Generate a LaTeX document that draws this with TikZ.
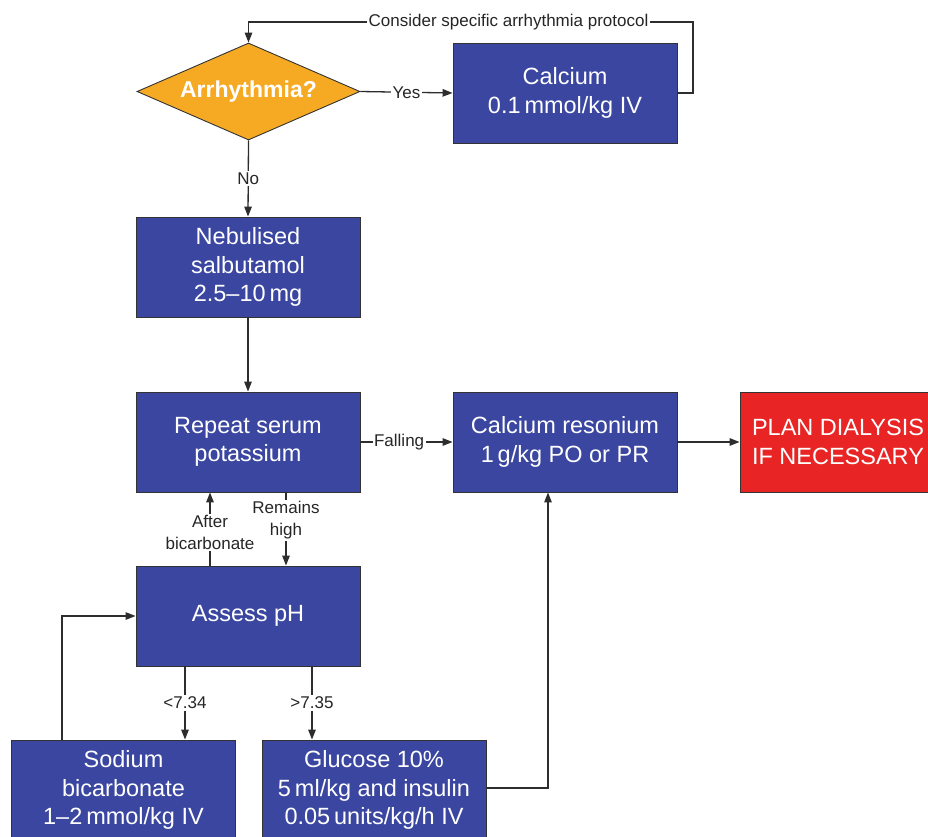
\documentclass[tikz,border=0pt]{standalone}
\usepackage{fontspec}
\setmainfont{Liberation Sans}
\usetikzlibrary{shapes.geometric,arrows.meta,calc}
\definecolor{boxblue}{RGB}{58,70,160}
\definecolor{diaorange}{RGB}{246,170,36}
\definecolor{alertred}{RGB}{232,36,36}
\definecolor{linegray}{RGB}{45,45,45}
\begin{document}
\begin{tikzpicture}[x=1pt,y=-1pt,
  box/.style={rectangle, draw=black!80, line width=0.9pt, fill=boxblue, text=white,
    minimum width=224pt, minimum height=100pt, align=center, inner sep=0pt,
    font=\fontsize{23.5}{28.5}\selectfont},
  diam/.style={diamond, aspect=2.3, draw=black!80, line width=0.9pt, fill=diaorange, text=white,
    minimum width=223pt, minimum height=97pt, inner sep=0pt,
    font=\fontsize{23}{27}\selectfont\bfseries},
  conn/.style={draw=linegray, line width=1.3pt, -{Triangle[length=10pt,width=7.5pt]}},
  lbl/.style={fill=white, inner sep=1.5pt, text=black!85, align=center,
    font=\fontsize{17}{22}\selectfont}]
\useasboundingbox (0,0) rectangle (928,836);
\clip (0,0) rectangle (928,836);
\fill[white] (0,0) rectangle (928,836);

\node[diam] (arr) at (248.5,91.5) {Arrhythmia?};
\node[box] (cal) at (565,93) {Calcium\\0.1\,mmol/kg IV};
\node[box] (neb) at (248,267) {Nebulised\\salbutamol\\2.5--10\,mg};
\node[box] (rep) at (248,442) {Repeat serum\\potassium};
\node[box] (res) at (565,442) {Calcium resonium\\1\,g/kg PO or PR};
\node[box, fill=alertred, minimum width=196pt] (dia) at (838,442) {PLAN DIALYSIS\\IF NECESSARY};
\node[box] (ph) at (248,616) {Assess pH};
\node[box] (sod) at (123.5,790) {Sodium\\bicarbonate\\1--2\,mmol/kg IV};
\node[box] (glu) at (374,790) {Glucose 10\%\\5\,ml/kg and insulin\\0.05\,units/kg/h IV};

\coordinate (topr) at (693,22);

\draw[conn] (arr.east) -- node[lbl]{Yes} (cal.west);
\draw[conn] (cal.east) -| (topr) -- node[lbl, pos=0.415]{Consider specific arrhythmia protocol} (topr -| arr.north) -- (arr.north);
\draw[conn] (arr.south) -- node[lbl]{No} (neb.north);
\draw[conn] (neb.south) -- (rep.north);
\draw[conn] (rep.east) -- node[lbl, pos=0.42]{Falling} (res.west);
\draw[conn] (res.east) -- (dia.west);
\draw[conn] ([xshift=-38pt]ph.north) -- node[lbl, pos=0.45]{After\\bicarbonate} ([xshift=-38pt]rep.south);
\draw[conn] ([xshift=38pt]rep.south) -- node[lbl, pos=0.38]{Remains\\high} ([xshift=38pt]ph.north);
\draw[conn] ([xshift=-63pt]ph.south) -- node[lbl]{<7.34} ([xshift=-63pt]ph.south |- sod.north);
\draw[conn] ([xshift=64pt]ph.south) -- node[lbl]{>7.35} ([xshift=64pt]ph.south |- glu.north);
\draw[conn] ([xshift=-61.5pt]sod.north) |- (ph.west);
\draw[conn] ([yshift=2pt]glu.east) -| ([xshift=-17pt]res.south);
\end{tikzpicture}
\end{document}
